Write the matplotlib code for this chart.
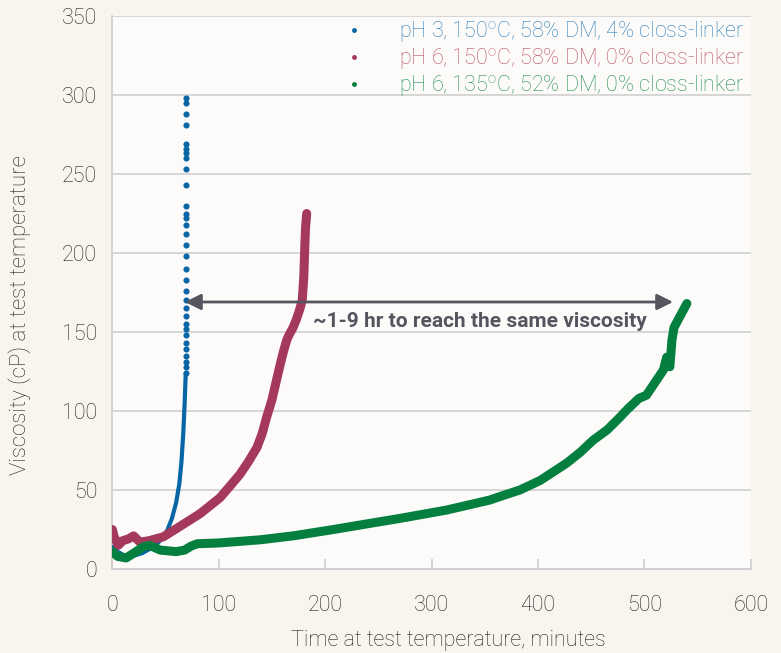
import matplotlib
matplotlib.use("Agg")
import matplotlib.pyplot as plt
from matplotlib.lines import Line2D

# datos
blue_t = [0, 5, 10, 18, 28, 36, 42, 48, 52, 56, 60, 63, 65, 66.7, 68, 69]
blue_v = [14, 11, 9, 8, 10, 13, 16, 20, 25, 32, 42, 54, 68, 86, 105, 124]
blue_dot_v = [124, 128, 131, 135, 139, 143, 148, 152, 155, 160, 165, 170, 176, 183, 190,
              198, 205, 212, 218, 222, 225, 230, 243, 253, 260, 263, 266, 269, 281, 288, 295, 298]
blue_dot_t = [69.3] * len(blue_dot_v)

red_t = [0, 2, 5.6, 10, 15, 20, 26, 35, 48, 63.6, 82.4, 101, 110, 120, 128, 136, 141, 145,
         150, 154.5, 158, 161, 164, 166, 170, 173, 176, 178.5, 180, 180.7, 181.5, 182.7]
red_v = [25, 20, 15, 18, 19, 21, 17, 18, 20.4, 27, 35, 45, 52, 60, 68, 77, 86, 96,
         107, 120, 130, 138, 145, 148, 153, 158, 164, 170, 185, 200, 215, 225]

green_t = [0, 5, 13, 20, 29, 35, 45, 60, 68, 74, 80, 100, 139, 170, 205, 252, 270, 314, 355,
           364, 383, 402, 427, 440, 452, 465, 477, 484, 495, 502, 508, 513, 518, 521, 524,
           526, 528, 532, 536, 540]
green_v = [11, 8, 7, 10, 14, 15, 12, 11, 12, 14.5, 16, 16.5, 18.5, 21, 24.7, 30, 32, 37.3, 43.7,
           45.8, 50, 56, 67, 74, 81.6, 88, 96, 101, 108, 110, 116, 121, 126, 134, 128,
           145, 153, 158, 163, 168]

labels = ['pH 3, 150$^\\mathregular{o}$C, 58% DM, 4% closs-linker',
          'pH 6, 150$^\\mathregular{o}$C, 58% DM, 0% closs-linker',
          'pH 6, 135$^\\mathregular{o}$C, 52% DM, 0% closs-linker']
line_colors = ['#0866a6', '#a5395c', '#047f3f']
text_colors = ['#2a7fbd', '#b8506f', '#218f50']

plt.rcParams['font.family'] = ['Roboto', 'DejaVu Sans']

fig = plt.figure(figsize=(7.81, 6.53), dpi=100, facecolor='#f9f4ee')
ax = fig.add_axes([0.1438, 0.1286, 0.8174, 0.8469])
ax.set_facecolor('#fdfbf9')

ax.plot(blue_t, blue_v, color=line_colors[0], lw=3, solid_capstyle='round', zorder=3)
ax.plot(blue_dot_t, blue_dot_v, ls='', marker='o', ms=3.4, color=line_colors[0], zorder=3)
ax.plot(red_t, red_v, color=line_colors[1], lw=6.5, solid_capstyle='round',
        solid_joinstyle='round', zorder=4)
ax.plot(green_t, green_v, color=line_colors[2], lw=6.5, solid_capstyle='round',
        solid_joinstyle='round', zorder=5)

# flecha y anotacion
ax.annotate('', xy=(68.3, 169), xytext=(527, 169),
            arrowprops=dict(arrowstyle='<|-|>', color='#55555f', lw=2.0,
                            mutation_scale=24, shrinkA=0, shrinkB=0), zorder=6)
ax.text(345.8, 156.5, '~1-9 hr to reach the same viscosity', ha='center', va='center',
        fontsize=15, fontweight='bold', color='#55555f', zorder=6)

ax.set_xlim(0, 600)
ax.set_ylim(0, 350)
ax.set_xticks(range(0, 601, 100))
ax.set_yticks(range(0, 351, 50))
ax.grid(axis='y', color='#d4d4d4', lw=1.3)
ax.set_axisbelow(True)
for s in ['top', 'right']:
    ax.spines[s].set_visible(False)
for s in ['left', 'bottom']:
    ax.spines[s].set_color('#d0d0d0')
    ax.spines[s].set_linewidth(1.3)
ax.tick_params(axis='x', direction='in', length=7, width=1.3, color='#d0d0d0',
               pad=19, labelsize=15.5, labelcolor='#222222')
ax.tick_params(axis='y', length=0, pad=11, labelsize=15.5, labelcolor='#222222')
for lab in ax.get_xticklabels() + ax.get_yticklabels():
    lab.set_fontweight('light')

ax.set_xlabel('Time at test temperature, minutes', fontsize=15.5, color='#222222',
              fontweight='light')
ax.set_ylabel('Viscosity (cP) at test temperature', fontsize=16, color='#222222',
              fontweight='light')
ax.xaxis.set_label_coords(0.526, -0.110)
ax.yaxis.set_label_coords(-0.127, 0.459)

handles = [Line2D([], [], ls='', marker='o', ms=2.5, color=c) for c in line_colors]
leg = ax.legend(handles, labels, loc='upper right', frameon=False, fontsize=15.5,
                labelcolor=text_colors, handlelength=1.0, handletextpad=1.6,
                borderaxespad=0.1, labelspacing=0.05, borderpad=0.2,
                bbox_to_anchor=(1.0, 1.006))
for t in leg.get_texts():
    t.set_fontweight('light')

fig.savefig('out.png', dpi=100, facecolor=fig.get_facecolor())
plt.close(fig)
